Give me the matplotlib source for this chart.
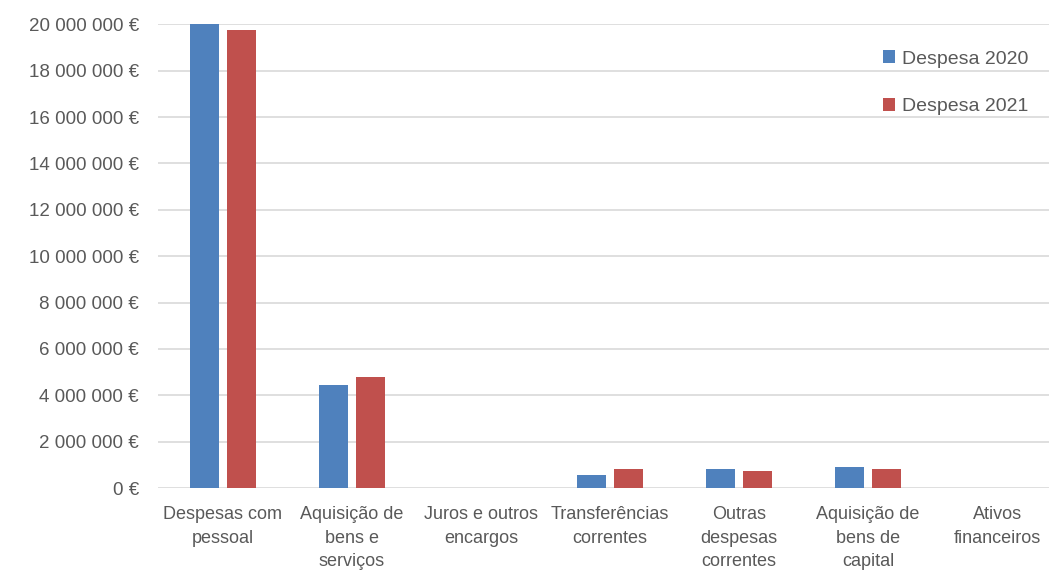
import numpy as np
import matplotlib.pyplot as plt
from matplotlib.ticker import FuncFormatter

# ---------------- dados ---------------- #
categorias = [
    "Despesas com\npessoal",
    "Aquisição de\nbens e\nserviços",
    "Juros e outros\nencargos",
    "Transferências\ncorrentes",
    "Outras\ndespesas\ncorrentes",
    "Aquisição de\nbens de\ncapital",
    "Ativos\nfinanceiros",
]
despesa_2020 = [20_000_000, 4_440_000, 0, 560_000, 810_000, 910_000, 0]
despesa_2021 = [19_740_000, 4_780_000, 0, 810_000, 760_000, 810_000, 0]

# ---------------- estilo ---------------- #
plt.rcParams["font.family"] = ["Liberation Sans", "DejaVu Sans"]
texto = "#595959"
azul = "#4F81BD"
vermelho = "#C0504D"

fig = plt.figure(figsize=(10.49, 5.77), dpi=100)
ax = fig.add_axes([0.151, 0.154, 0.861, 0.804])

x = np.arange(len(categorias))
w = 0.225
gap = 0.06
ax.bar(x - (w + gap) / 2, despesa_2020, w, color=azul, label="Despesa 2020", zorder=3)
ax.bar(x + (w + gap) / 2, despesa_2021, w, color=vermelho, label="Despesa 2021", zorder=3)

ax.set_xlim(-0.5, len(categorias) - 0.5)
ax.set_ylim(0, 20_000_000)
ax.set_yticks(np.arange(0, 20_000_001, 2_000_000))


def fmt_euro(v, pos):
    return f"{int(v):,}".replace(",", " ") + " €"


ax.yaxis.set_major_formatter(FuncFormatter(fmt_euro))
ax.set_xticks(x)
ax.set_xticklabels(categorias, fontsize=13, color=texto, linespacing=1.5)
ax.tick_params(axis="y", labelsize=13.5, colors=texto, length=0, pad=14)
ax.tick_params(axis="x", length=0, pad=13)

ax.grid(axis="y", color="#d9d9d9", linewidth=1.2, zorder=0)
for s in ["top", "right", "left", "bottom"]:
    ax.spines[s].set_visible(False)

leg = fig.legend(
    loc="upper right", bbox_to_anchor=(0.997, 0.943), frameon=False,
    fontsize=14, labelcolor=texto, handlelength=0.65, handleheight=0.65,
    handletextpad=0.35, labelspacing=1.55,
)

fig.savefig("out.png", dpi=100)
